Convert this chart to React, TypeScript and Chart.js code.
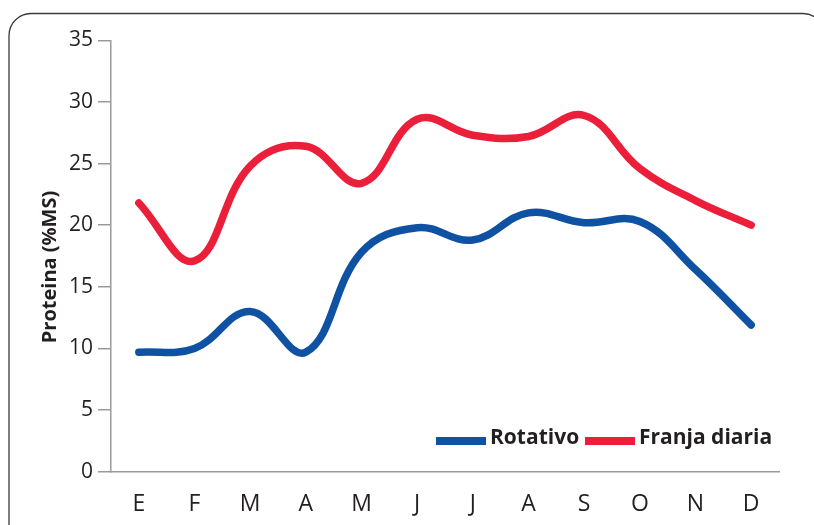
import React, { useEffect, useRef } from "react";
import { Chart, registerables } from "chart.js";

Chart.register(...registerables);

const months = ["E", "F", "M", "A", "M", "J", "J", "A", "S", "O", "N", "D"];
const rotativo = [9.7, 10.0, 13.0, 9.7, 17.8, 19.8, 18.8, 21.0, 20.2, 20.3, 16.4, 11.9];
const franjaDiaria = [21.8, 17.1, 24.8, 26.4, 23.4, 28.6, 27.3, 27.2, 28.9, 24.6, 22.0, 20.0];
const seriesNames = ["Rotativo", "Franja diaria"];
const seriesColors = ["#0f52a4", "#ec1f3b"];
const yTitle = "Proteina (%MS)";
const yMin = 0;
const yMax = 35;
const yStep = 5;

const FONT = "'Open Sans', 'Noto Sans', sans-serif";
const TEXT = "#231f20";
const AXIS = "#9a9a9a";

const decorPlugin = {
  id: "decor",
  beforeDraw(chart: any) {
    const ctx = chart.ctx;
    ctx.save();
    ctx.fillStyle = "#ffffff";
    ctx.fillRect(0, 0, chart.width, chart.height);
    ctx.beginPath();
    ctx.roundRect(9, 13.5, 816, 545, 22);
    ctx.strokeStyle = "#3a3a3a";
    ctx.lineWidth = 1.3;
    ctx.stroke();
    ctx.restore();
  },
  afterDraw(chart: any) {
    const ctx = chart.ctx;
    ctx.save();
    // y title
    ctx.translate(50, 267);
    ctx.rotate(-Math.PI / 2);
    ctx.font = `bold 20px ${FONT}`;
    ctx.fillStyle = TEXT;
    ctx.textAlign = "center";
    ctx.textBaseline = "middle";
    ctx.fillText(yTitle, 0, 0);
    ctx.restore();

    // legend
    ctx.save();
    const ds = chart.data.datasets;
    const starts = [436, 585];
    ctx.font = `bold 21px ${FONT}`;
    ctx.textBaseline = "alphabetic";
    ctx.textAlign = "left";
    ds.forEach((d: any, i: number) => {
      const x = starts[i];
      ctx.fillStyle = d.borderColor;
      ctx.fillRect(x, 437, 50, 8);
      ctx.fillStyle = TEXT;
      ctx.fillText(d.label, x + 54, 444);
    });
    ctx.restore();
  },
};

export default function App() {
  const ref = useRef<HTMLCanvasElement | null>(null);
  useEffect(() => {
    if (!ref.current) return;
    const chart = new Chart(ref.current, {
      type: "line",
      data: {
        labels: months,
        datasets: [
          {
            label: seriesNames[0],
            data: rotativo,
            borderColor: seriesColors[0],
            backgroundColor: seriesColors[0],
            borderWidth: 7.5,
            pointRadius: 0,
            tension: 0.4,
            borderCapStyle: "round",
            borderJoinStyle: "round",
            fill: false,
          },
          {
            label: seriesNames[1],
            data: franjaDiaria,
            borderColor: seriesColors[1],
            backgroundColor: seriesColors[1],
            borderWidth: 7.5,
            pointRadius: 0,
            tension: 0.4,
            borderCapStyle: "round",
            borderJoinStyle: "round",
            fill: false,
          },
        ],
      },
      options: {
        animation: false,
        responsive: false,
        maintainAspectRatio: false,
        layout: { padding: { top: 40.3, right: 35, left: 0, bottom: 0 } },
        plugins: {
          legend: { display: false },
          tooltip: { enabled: false },
          title: { display: false },
        },
        scales: {
          x: {
            type: "category",
            offset: true,
            grid: { display: false, drawTicks: false },
            border: { display: true, color: AXIS, width: 1.5 },
            ticks: {
              color: TEXT,
              font: { family: FONT, size: 23 },
              padding: 19,
              maxRotation: 0,
              autoSkip: false,
            },
            afterFit(scale: any) {
              scale.height = 525 - 471.7;
            },
          },
          y: {
            min: yMin,
            max: yMax,
            grid: {
              drawOnChartArea: false,
              drawTicks: true,
              tickLength: 13,
              color: AXIS,
              lineWidth: 1.5,
            },
            border: { display: true, color: AXIS, width: 1.5 },
            ticks: {
              stepSize: yStep,
              color: TEXT,
              font: { family: FONT, size: 21 },
              padding: 5,
            },
            afterFit(scale: any) {
              scale.width = 111;
            },
          },
        },
      },
      plugins: [decorPlugin],
    } as any);
    return () => chart.destroy();
  }, []);
  return (
    <div style={{ position: "fixed", left: 0, top: 0, width: 814, height: 525 }}>
      <canvas ref={ref} width={814} height={525} style={{ display: "block" }} />
    </div>
  );
}
